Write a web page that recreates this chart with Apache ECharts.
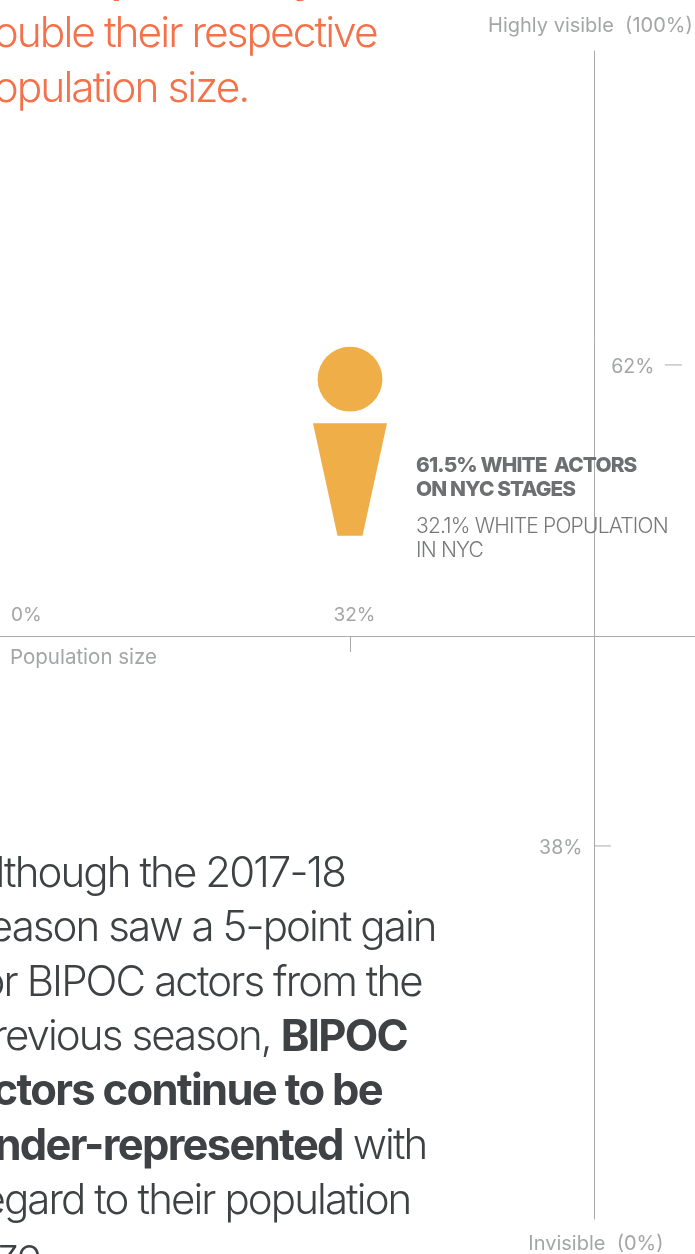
<!DOCTYPE html>
<html><head><meta charset="utf-8">
<style>html,body{margin:0;padding:0;background:#fff}#c{width:695px;height:1254px}</style>
<script src="https://cdn.jsdelivr.net/npm/echarts@6/dist/echarts.min.js"></script>
</head><body><div id="c"></div>
<script>
const headlineLines = ['double their respective', 'population size.'];
const bodyLines = [
  [['Although the 2017-18', 0]],
  [['season saw a 5-point gain', 0]],
  [['for BIPOC actors from the', 0]],
  [['previous season, ', 0], ['BIPOC', 1]],
  [['actors continue to be', 1]],
  [['under-represented', 1], [' with', 0]],
  [['regard to their population', 0]],
  [['size', 0]]
];
const xLabels = ['0%', '32%'];
const xLabelValues = [0, 32];
const xTickValues = [32];
const yTickValues = [62, 38];
const yTickLabels = ['62%', '38%'];
const populationShare = 32;
const actorShare = 61.5;
const annotationBold = ['61.5% WHITE  ACTORS', 'ON NYC STAGES'];
const annotationLight = ['32.1% WHITE POPULATION', 'IN NYC'];

const sans = 'Inter';
const GREY = '#a3a5a6';
const LINE = '#a9a9a9';
const crossX = 55;

// Tight tracking of the reference's type, keyed by font size.
const tracking = {'42.5px': -2.0, '42px': -1.9, '43.5px': -1.7, '21px': -0.8, '20.8px': -0.85};
function applyTracking(ctx) {
  const m = /([\d.]+px)/.exec(ctx.font);
  ctx.letterSpacing = (m && tracking[m[1]] ? tracking[m[1]] : 0) + 'px';
}
['fillText', 'measureText'].forEach(function (name) {
  const orig = CanvasRenderingContext2D.prototype[name];
  CanvasRenderingContext2D.prototype[name] = function () {
    applyTracking(this);
    return orig.apply(this, arguments);
  };
});

// The visibility axis is schematic, not linear: its ticks sit at these axis units.
const warpFrom = [0, 38, 50, 62, 100];
const warpTo = [0, 31.94, 50, 73.12, 100];
function warp(v) {
  for (let i = 1; i < warpFrom.length; i++) {
    if (v <= warpFrom[i]) {
      const t = (v - warpFrom[i - 1]) / (warpFrom[i] - warpFrom[i - 1]);
      return warpTo[i - 1] + t * (warpTo[i] - warpTo[i - 1]);
    }
  }
  return 100;
}
const chart = echarts.init(document.getElementById('c'), null, {renderer: 'canvas'});

function txt(text, x, y, opt) {
  return {type: 'text', x: x, y: y, silent: true, style: {
    text: text, x: 0, y: 0, fill: opt.c, verticalAlign: 'middle', align: 'left',
    font: (opt.w || 400) + ' ' + opt.s + 'px ' + sans
  }};
}

const graphics = [];
const H_X = -30, H_S = 42.5, ORANGE = '#f4714a';
headlineLines.forEach((l, i) => graphics.push(txt(l, H_X, 34 + i * 55, {c: ORANGE, s: H_S, w: 300})));
graphics.push(txt('p', 111, -19, {c: ORANGE, s: 41, w: 600}));
graphics.push(txt('y', 294, -19, {c: ORANGE, s: 41, w: 600}));

const B_X = -31, BODY = '#3e4244';
bodyLines.forEach((segs, i) => {
  const rich = {
    l: {fontFamily: sans, fontSize: 42, fontWeight: 300, fill: BODY, color: BODY},
    b: {fontFamily: sans, fontSize: 43.5, fontWeight: 700, fill: BODY, color: BODY}
  };
  const text = segs.map(s => '{' + (s[1] ? 'b' : 'l') + '|' + s[0] + '}').join('');
  graphics.push({type: 'text', x: B_X, y: 874 + i * 54.5, silent: true, style: {
    text: text, rich: rich, verticalAlign: 'middle', align: 'left', fontFamily: sans, fontSize: 42
  }});
});

const option = {
  animation: false,
  backgroundColor: '#fff',
  grid: {left: 0, right: 0, top: 51, bottom: 35, containLabel: false},
  xAxis: {
    type: 'value', min: -0.94, max: 64.47, position: 'bottom', offset: -583,
    splitLine: {show: false},
    axisLine: {show: true, onZero: false, lineStyle: {color: LINE, width: 1}},
    axisTick: {show: true, length: 16, customValues: xTickValues, lineStyle: {color: LINE}},
    axisLabel: {show: false}
  },
  yAxis: {
    type: 'value', min: 0, max: 100, position: 'left', offset: -594.5,
    splitLine: {show: false},
    axisLine: {show: true, onZero: false, lineStyle: {color: LINE, width: 1}},
    axisTick: {show: false},
    axisLabel: {show: false}
  },
  series: [
    {
      type: 'custom', coordinateSystem: 'cartesian2d', clip: false, silent: true,
      data: [[populationShare, actorShare]],
      encode: {x: 0, y: 1},
      renderItem: function (params, api) {
        const c = api.coord([api.value(0), warp(api.value(1))]);
        const cx = c[0], cy = c[1] + 3;
        return {type: 'group', children: [
          {type: 'circle', shape: {cx: cx, cy: cy, r: 32.4}, style: {fill: '#f0ae48'}},
          {type: 'polygon', shape: {points: [[cx - 37, cy + 44], [cx + 37, cy + 44], [cx + 12.5, cy + 156.5], [cx - 12.5, cy + 156.5]]}, style: {fill: '#f0ae48'}}
        ]};
      }
    },
    {
      type: 'custom', coordinateSystem: 'cartesian2d', clip: false, silent: true,
      data: yTickValues.map((v, i) => [i]),
      renderItem: function (params, api) {
        const i = api.value(0);
        const p = api.coord([crossX, warp(yTickValues[i])]);
        const right = i === 0;
        const y = p[1];
        const tx0 = right ? p[0] + 70.5 : p[0];
        const tx1 = right ? p[0] + 87.5 : p[0] + 16.5;
        const lx = right ? p[0] + 60 : p[0] - 12;
        return {type: 'group', children: [
          {type: 'line', shape: {x1: tx0, y1: y, x2: tx1, y2: y}, style: {stroke: LINE, lineWidth: 1}},
          {type: 'text', style: {text: yTickLabels[i], x: lx, y: y + 2, align: 'right', verticalAlign: 'middle', fill: GREY, font: '400 19.5px ' + sans}}
        ]};
      }
    },
    {
      type: 'custom', coordinateSystem: 'cartesian2d', clip: false, silent: true,
      data: xLabelValues.map((v, i) => [i]),
      renderItem: function (params, api) {
        const i = api.value(0);
        const p = api.coord([xLabelValues[i], 50]);
        return {type: 'text', style: {text: xLabels[i], x: p[0] + (i ? 4.5 : 1), y: p[1] - 20, align: i ? 'center' : 'left', verticalAlign: 'middle', fill: GREY, font: '400 19px ' + sans}};
      }
    },
    {
      type: 'custom', coordinateSystem: 'cartesian2d', clip: false, silent: true,
      data: [[0]],
      renderItem: function (params, api) {
        const top = api.coord([crossX, 100]);
        const bot = api.coord([crossX, 0]);
        const zero = api.coord([0, 50]);
        const mk = (t, x, y, a, s) => ({type: 'text', style: {text: t, x: x, y: y, align: a, verticalAlign: 'middle', fill: GREY, font: '400 ' + s + 'px ' + sans}});
        return {type: 'group', children: [
          mk('Highly visible  (100%)', top[0] - 4, top[1] - 25, 'center', 20),
          mk('Invisible  (0%)', bot[0] + 1.5, bot[1] + 25, 'center', 20),
          mk('Population size', zero[0], zero[1] + 23, 'left', 20.5)
        ]};
      }
    },
    {
      type: 'custom', coordinateSystem: 'cartesian2d', clip: false, silent: true,
      data: [[populationShare, actorShare]],
      renderItem: function (params, api) {
        const c = api.coord([api.value(0), warp(api.value(1))]);
        const x = c[0] + 66;
        const y0 = c[1] + 90;
        const kids = [];
        annotationBold.forEach((t, i) => kids.push({type: 'text', x: x, y: y0 + i * 24, style: {text: t, x: 0, y: 0, verticalAlign: 'middle', align: 'left', fill: '#6e6f70', font: '800 20.8px ' + sans}}));
        annotationLight.forEach((t, i) => kids.push({type: 'text', x: x, y: y0 + 60 + i * 24.5, style: {text: t, x: 0, y: 0, verticalAlign: 'middle', align: 'left', fill: '#77787a', font: '300 21px ' + sans}}));
        return {type: 'group', children: kids};
      }
    }
  ],
  graphic: {elements: graphics}
};
chart.setOption(option);
</script></body></html>
